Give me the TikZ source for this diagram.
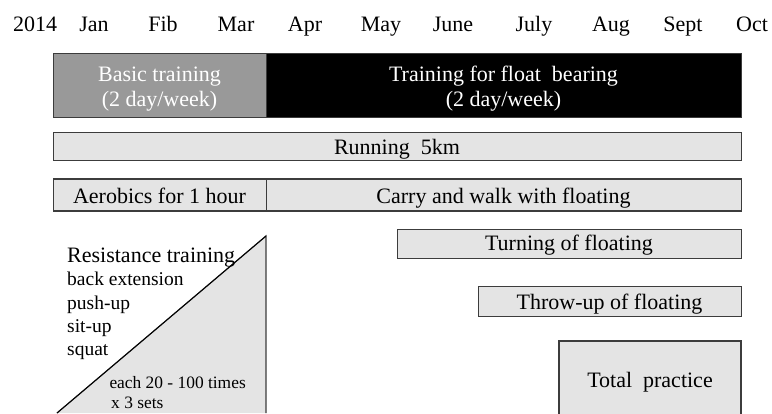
\documentclass[tikz,border=0pt]{standalone}
\usepackage{fontspec}
\setmainfont{Liberation Serif}
\definecolor{edge}{HTML}{3C3C3C}
\definecolor{lightfill}{HTML}{E4E4E4}
\definecolor{midgray}{HTML}{999999}
\newcommand\fsA{\fontsize{22pt}{25pt}\selectfont}
\newcommand\fsB{\fontsize{19.5pt}{23pt}\selectfont}
\newcommand\fsC{\fontsize{17.4pt}{20pt}\selectfont}
\begin{document}
\begin{tikzpicture}[x=1pt,y=-1pt,
  boxst/.style={draw=edge,line width=1.2pt,fill=lightfill,anchor=north west,inner sep=0pt},
  txt/.style={inner sep=0pt,anchor=base,font=\fsA},
  ltxt/.style={inner sep=0pt,anchor=base west}]
\useasboundingbox (0,0) rectangle (772,413);
\clip (0,0) rectangle (772,413);
% month header
\node[txt] (m0) at (35,31) {2014};
\node[txt] (m1) at (94,31) {Jan};
\node[txt] (m2) at (163,31) {Fib};
\node[txt] (m3) at (236,31) {Mar};
\node[txt] (m4) at (305,31) {Apr};
\node[txt] (m5) at (381,31) {May};
\node[txt] (m6) at (453,31) {June};
\node[txt] (m7) at (534,31) {July};
\node[txt] (m8) at (611,31) {Aug};
\node[txt] (m9) at (683,31) {Sept};
\node[txt] (m10) at (752,31) {Oct};
% top row
\node[boxst,fill=midgray,minimum width=213pt,minimum height=64pt] (basic) at (53,53) {};
\node[boxst,fill=black,minimum width=475pt,minimum height=64pt] (float) at (266,53) {};
\node[txt,text=white] (basicA) at (159.5,81) {Basic training};
\node[txt,text=white] (basicB) at (159.5,106.5) {(2 day/week)};
\node[txt,text=white] (floatA) at (503.5,81) {Training for float\ \ bearing};
\node[txt,text=white] (floatB) at (503.5,106.5) {(2 day/week)};
% running
\node[boxst,minimum width=688pt,minimum height=28pt] (run) at (53,132) {};
\node[txt] (runT) at (397,154.3) {Running\ \ 5km};
% aerobics / carry
\node[boxst,minimum width=213pt,minimum height=32pt] (aero) at (53,178.3) {};
\node[boxst,minimum width=475pt,minimum height=32pt] (carry) at (266,178.3) {};
\node[txt] (aeroT) at (159.5,203.3) {Aerobics for 1 hour};
\node[txt] (carryT) at (503.5,203.3) {Carry and walk with floating};
% turning
\node[boxst,minimum width=344pt,minimum height=29pt] (turn) at (397,229) {};
\node[txt] (turnT) at (569,250.5) {Turning of floating};
% throw-up
\node[boxst,minimum width=263pt,minimum height=30pt] (throw) at (478,286) {};
\node[txt] (throwT) at (609.5,309.5) {Throw-up of floating};
% total practice (runs off the bottom)
\fill[lightfill] (559,341) rectangle (741,420);
\draw[edge,line width=1.2pt] (559,420) -- (559,341) -- (741,341) -- (741,420);
\node[txt] (totalT) at (650,387) {Total\ \ practice};
% resistance training triangle
\coordinate (triA) at (57,413);
\coordinate (triB) at (266,236);
\coordinate (triC) at (266,413);
\fill[lightfill] (triA) -- (triB) -- (triC) -- cycle;
\draw[edge,line width=1.2pt] (triA) -- (triB) -- (triC);
\draw[black,line width=0.9pt] (triA) -- (triB);
\node[ltxt,font=\fsA] (resT) at (67,262.3) {Resistance training};
\node[ltxt,font=\fsB] (res1) at (67,285) {back extension};
\node[ltxt,font=\fsB] (res2) at (67,309) {push-up};
\node[ltxt,font=\fsB] (res3) at (67,332.5) {sit-up};
\node[ltxt,font=\fsB] (res4) at (67,355.7) {squat};
\node[ltxt,font=\fsC] (res5) at (109.3,388.3) {each 20 - 100 times};
\node[ltxt,font=\fsC] (res6) at (111,408.3) {x 3 sets};
\end{tikzpicture}
\end{document}
